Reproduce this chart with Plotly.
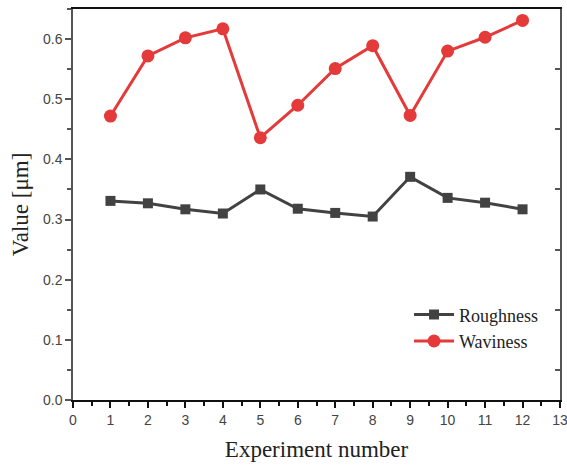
import plotly.graph_objects as go

experiments = [1, 2, 3, 4, 5, 6, 7, 8, 9, 10, 11, 12]
roughness = [0.331, 0.327, 0.317, 0.310, 0.350, 0.318, 0.311, 0.305, 0.371, 0.336, 0.328, 0.317]
waviness = [0.472, 0.572, 0.602, 0.617, 0.436, 0.490, 0.551, 0.589, 0.473, 0.580, 0.603, 0.631]
x_ticks = list(range(0, 14))
y_ticks = [0.0, 0.1, 0.2, 0.3, 0.4, 0.5, 0.6]
right_ticks = [0.05, 0.15, 0.25, 0.35, 0.45, 0.55]

GRAY = "#424242"
RED = "#e43a3a"

fig = go.Figure()
fig.add_trace(go.Scatter(
    x=experiments, y=roughness, name="Roughness", mode="lines+markers",
    line=dict(color=GRAY, width=3),
    marker=dict(symbol="square", size=10, color=GRAY),
))
fig.add_trace(go.Scatter(
    x=experiments, y=waviness, name="Waviness", mode="lines+markers",
    line=dict(color=RED, width=3),
    marker=dict(symbol="circle", size=13, color=RED),
))
# invisible helper trace so the right-hand frame axis is drawn
fig.add_trace(go.Scatter(
    x=[experiments[0]], y=[roughness[0]], yaxis="y2", mode="markers",
    marker=dict(opacity=0), showlegend=False, hoverinfo="skip",
))

tickfont = dict(family="Liberation Sans, Arial, sans-serif", size=14, color="#444")
titlefont = dict(family="Liberation Serif, Times New Roman, serif", size=23, color="#222")

fig.update_layout(
    width=567, height=467,
    margin=dict(l=73, r=7, t=9, b=67),
    paper_bgcolor="white", plot_bgcolor="white",
    showlegend=True,
    legend=dict(
        x=0.69, y=0.265, xanchor="left", yanchor="top",
        font=dict(family="Liberation Serif, Times New Roman, serif", size=18, color="#222"),
        bgcolor="rgba(0,0,0,0)", itemwidth=40, tracegroupgap=0,
    ),
    xaxis=dict(
        range=[0, 13], tickvals=x_ticks, ticktext=[str(v) for v in x_ticks],
        ticks="outside", ticklen=6, tickwidth=2, tickcolor="#111",
        showline=True, linecolor="#111", linewidth=2, mirror=True,
        showgrid=False, zeroline=False, tickfont=tickfont, automargin=False,
        ticklabeloverflow="allow",
        minor=dict(dtick=0.5, ticks="outside", ticklen=4, tickwidth=2, tickcolor="#111"),
        title=dict(text="Experiment number", font=titlefont, standoff=14),
    ),
    yaxis=dict(
        range=[0, 0.65], tickvals=y_ticks, ticktext=[f"{v:.1f}" for v in y_ticks],
        ticks="outside", ticklen=6, tickwidth=1.5, tickcolor="#555",
        showline=True, linecolor="#555", linewidth=1.5, mirror=False,
        showgrid=False, zeroline=False, tickfont=tickfont, automargin=False,
        minor=dict(dtick=0.05, ticks="outside", ticklen=4, tickwidth=1.5, tickcolor="#555"),
        title=dict(text="Value [μm]", font=titlefont, standoff=8),
    ),
    yaxis2=dict(
        range=[0, 0.65], overlaying="y", side="right", tickvals=right_ticks,
        ticks="inside", ticklen=5, tickwidth=1.5, tickcolor="#555",
        showticklabels=False, showline=True, linecolor="#555", linewidth=1.5,
        showgrid=False, zeroline=False, automargin=False,
    ),
)

fig.write_html("out.html", config={"displayModeBar": False},
               post_script="document.body.style.margin='0';")
